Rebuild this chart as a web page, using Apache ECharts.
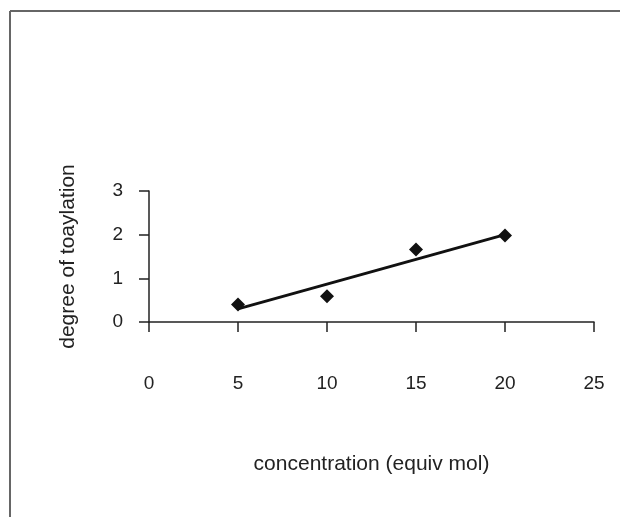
<!DOCTYPE html>
<html>
<head>
<meta charset="utf-8">
<script src="https://cdn.jsdelivr.net/npm/echarts@6/dist/echarts.min.js"></script>
<style>
html,body{margin:0;padding:0;background:#fff;}
#c{width:620px;height:517px;}
</style>
</head>
<body>
<div id="c"></div>
<script>
var concentration = [5, 10, 15, 20];
var degree = [0.40, 0.59, 1.66, 1.98];
var trendX = [5, 20];
var trendY = [0.30, 2.00];
var xTicks = [0, 5, 10, 15, 20, 25];
var yTicks = [0, 1, 2, 3];
var xTitle = 'concentration (equiv mol)';
var yTitle = 'degree of toaylation';

var points = concentration.map(function (x, i) { return [x, degree[i]]; });
var trend = trendX.map(function (x, i) { return [x, trendY[i]]; });

var chart = echarts.init(document.getElementById('c'));
var font = 'Liberation Sans, Arial, sans-serif';
chart.setOption({
  backgroundColor: '#ffffff',
  animation: false,
  grid: { left: 149, right: 26, top: 191, bottom: 195 },
  xAxis: {
    type: 'value', min: xTicks[0], max: xTicks[xTicks.length - 1], interval: 5,
    name: xTitle, nameLocation: 'middle', nameGap: 132,
    nameTextStyle: { color: '#222', fontSize: 21, fontFamily: font },
    axisLine: { lineStyle: { color: '#222', width: 1.5 } },
    axisTick: { show: true, length: 10, lineStyle: { color: '#222', width: 1.5 } },
    axisLabel: { margin: 52, color: '#222', fontSize: 19, fontFamily: font },
    splitLine: { show: false }
  },
  yAxis: {
    type: 'value', min: yTicks[0], max: yTicks[yTicks.length - 1], interval: 1,
    name: yTitle, nameLocation: 'middle', nameGap: 70,
    nameTextStyle: { color: '#222', fontSize: 21, fontFamily: font },
    axisLine: { show: true, lineStyle: { color: '#222', width: 1.5 } },
    axisTick: { show: true, length: 10, lineStyle: { color: '#222', width: 1.5 } },
    axisLabel: { margin: 26, color: '#222', fontSize: 19, fontFamily: font },
    splitLine: { show: false }
  },
  graphic: [
    { type: 'line', shape: { x1: 10, y1: 11, x2: 620, y2: 11 }, style: { stroke: '#666', lineWidth: 2 } },
    { type: 'line', shape: { x1: 10, y1: 11, x2: 10, y2: 517 }, style: { stroke: '#666', lineWidth: 2 } }
  ],
  series: [
    {
      type: 'line', data: trend, symbol: 'none',
      lineStyle: { color: '#111', width: 3 }, z: 2
    },
    {
      type: 'scatter', data: points, symbol: 'diamond', symbolSize: 14,
      itemStyle: { color: '#111', opacity: 1 }, z: 3
    }
  ]
});
</script>
</body>
</html>
